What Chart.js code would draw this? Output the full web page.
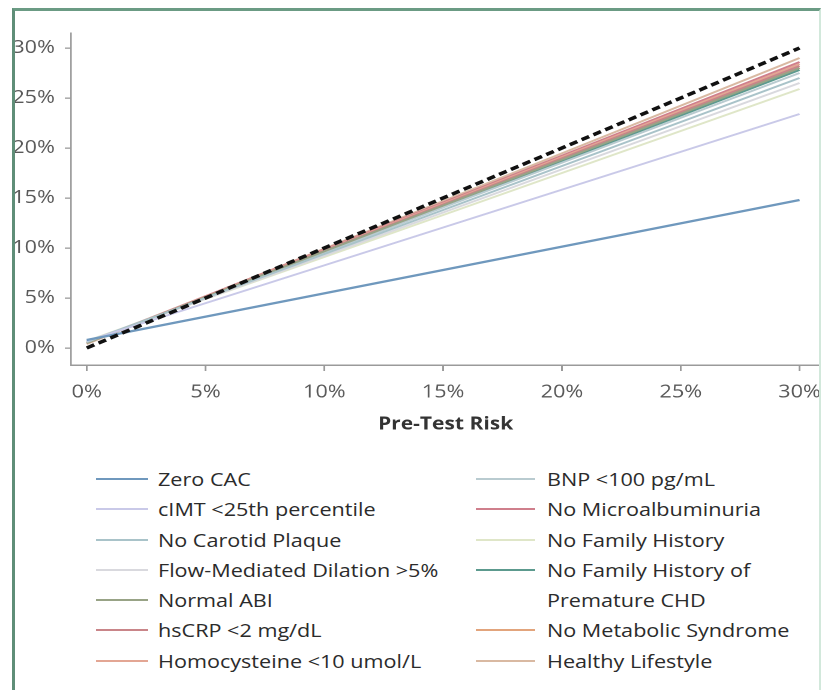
<!DOCTYPE html>
<html>
<head>
<meta charset="utf-8">
<title>Post-Test Risk by Negative Test</title>
<script src="https://cdn.jsdelivr.net/npm/chart.js@4.4.0/dist/chart.umd.min.js"></script>
<style>
  html, body { margin: 0; padding: 0; background: #fff; }
  body { width: 821px; height: 690px; position: relative; overflow: hidden; font-family: "Open Sans", sans-serif; }
  /* the figure is set in a wide, stretched face: draw narrow, then widen by 1.2 */
  #wrap { position: absolute; left: 0; top: 0; width: 684px; height: 439px; transform: scaleX(1.2); transform-origin: 0 0; }
  #frame { position: absolute; left: 12px; top: 8px; width: 804px; height: 700px; pointer-events: none;
           border-left: 3px solid #5f8e78; border-top: 3px solid #6b9b84; border-right: 2px solid #d2e8db; }
  .col { position: absolute; top: 464px; }
  .item { position: relative; font-size: 18px; line-height: 30.3px; color: #2b2b2b; }
  .item .swatch { position: absolute; left: 0; top: 14px; height: 2px; }
  .item .txt { display: inline-block; transform: scaleX(1.2); transform-origin: 0 0; max-width: 215px; }
  #legendLeft { left: 96px; }
  #legendLeft .item { padding-left: 62px; }
  #legendLeft .swatch { width: 52px; }
  #legendLeft .txt { max-width: 300px; }
  #legendRight { left: 476px; width: 345px; }
  #legendRight .item { padding-left: 71px; }
  #legendRight .swatch { width: 59px; }
</style>
</head>
<body>
<div id="wrap"><canvas id="plot" width="684" height="439"></canvas></div>
<div id="legendLeft" class="col"></div>
<div id="legendRight" class="col"></div>
<div id="frame"></div>
<script>
// pre-test risk (%) at the two ends of each line
const preTest = [0, 30];
const xTicks = [0, 5, 10, 15, 20, 25, 30];
const yTicks = [0, 5, 10, 15, 20, 25, 30];

const tests = [
  "Zero CAC",
  "cIMT <25th percentile",
  "No Carotid Plaque",
  "Flow-Mediated Dilation >5%",
  "Normal ABI",
  "hsCRP <2 mg/dL",
  "Homocysteine <10 umol/L",
  "BNP <100 pg/mL",
  "No Microalbuminuria",
  "No Family History",
  "No Family History of Premature CHD",
  "No Metabolic Syndrome",
  "Healthy Lifestyle"
];
// post-test risk (%) at pre-test 0% and 30%
const postAt0 = [0.8, 0.7, 0.6, 0.6, 0.5, 0.5, 0.5, 0.6, 0.5, 0.7, 0.5, 0.5, 0.4];
const postAt30 = [14.8, 23.4, 27.0, 26.5, 28.0, 28.2, 28.4, 27.5, 28.6, 25.9, 27.8, 28.0, 29.0];
// no-change reference line
const identity = [0, 30];

const colors = [
  "#6f98bd", "#c9c9e8", "#a9c3c9", "#d9d9de", "#98a386", "#c98589", "#e3a694",
  "#b9cbd0", "#cf7f8c", "#dfe6c8", "#5c9a8e", "#e2a47c", "#d9b9a2"
];

const axisGray = "#9a9a9a";

const datasets = [{
  label: "Pre-Test = Post-Test",
  data: preTest.map((x, j) => ({ x: x, y: identity[j] })),
  borderColor: "#111",
  borderWidth: 3.5,
  borderDash: [7, 4],
  pointRadius: 0
}];
tests.forEach((name, i) => {
  datasets.push({
    label: name,
    data: preTest.map((x, j) => ({ x: x, y: j === 0 ? postAt0[i] : postAt30[i] })),
    borderColor: colors[i],
    borderWidth: i === 0 ? 2.2 : 2,
    pointRadius: 0
  });
});

const chart = new Chart(document.getElementById("plot"), {
  type: "line",
  data: { datasets: datasets },
  options: {
    responsive: false,
    animation: false,
    devicePixelRatio: 2,
    layout: { padding: { top: 33, left: 0, right: 0, bottom: 0 } },
    plugins: { legend: { display: false }, tooltip: { enabled: false } },
    scales: {
      x: {
        type: "linear",
        min: -0.67,
        max: 30.88,
        afterBuildTicks: s => { s.ticks = xTicks.map(v => ({ value: v })); },
        afterFit: s => { s.height = 74; },
        // tall line box instead of padding, so the last label adds no right inset
        ticks: { callback: v => v + "%", color: "#595959", font: { family: "Open Sans", size: 18, lineHeight: 2.4 },
                 padding: 0, maxRotation: 0, autoSkip: false },
        grid: { drawOnChartArea: false, tickLength: 6, color: axisGray, lineWidth: 1.5 },
        border: { color: axisGray, width: 1.5 },
        title: {
          display: true, text: "Pre-Test Risk", color: "#333",
          font: { family: "Open Sans", size: 17.5, weight: "bold" },
          padding: { top: 0, bottom: 4 }
        }
      },
      y: {
        type: "linear",
        min: -1.7,
        max: 31.5,
        afterBuildTicks: s => { s.ticks = yTicks.map(v => ({ value: v })); },
        afterFit: s => { s.width = 59; },
        ticks: { callback: v => v + "%", color: "#595959", font: { family: "Open Sans", size: 18 }, padding: 8.3, autoSkip: false },
        grid: { drawOnChartArea: false, tickLength: 5, color: axisGray, lineWidth: 1.3 },
        border: { color: axisGray, width: 1.3 }
      }
    }
  }
});

// legend in two columns, built from the chart's own datasets
function addItem(col, ds) {
  const item = document.createElement("div");
  item.className = "item";
  const sw = document.createElement("span");
  sw.className = "swatch";
  sw.style.background = ds.borderColor;
  const txt = document.createElement("span");
  txt.className = "txt";
  txt.textContent = ds.label;
  item.appendChild(sw);
  item.appendChild(txt);
  col.appendChild(item);
}
const series = chart.data.datasets.slice(1);
series.slice(0, 7).forEach(ds => addItem(document.getElementById("legendLeft"), ds));
series.slice(7).forEach(ds => addItem(document.getElementById("legendRight"), ds));
</script>
</body>
</html>
